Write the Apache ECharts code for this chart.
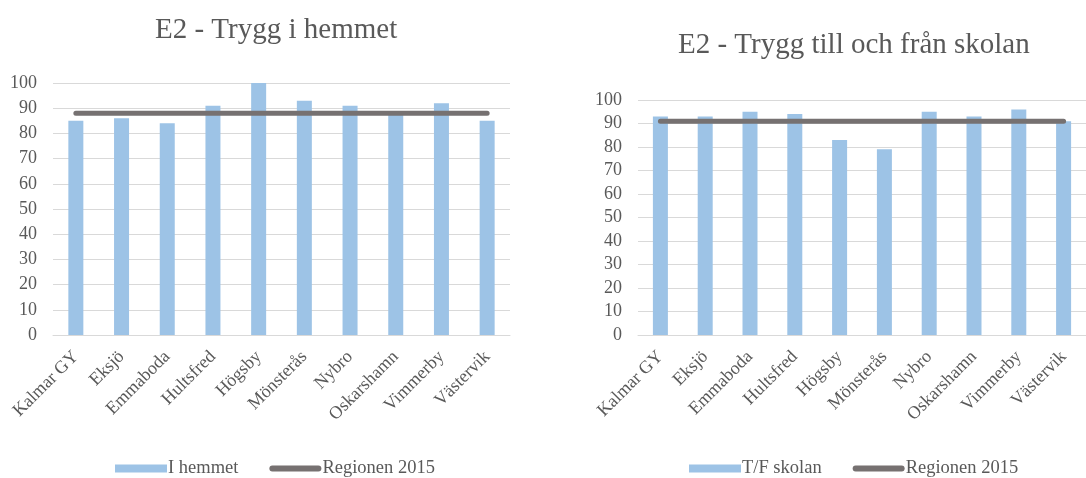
<!DOCTYPE html>
<html>
<head>
<meta charset="utf-8">
<script src="https://cdn.jsdelivr.net/npm/echarts@6/dist/echarts.min.js"></script>
<style>
html,body{margin:0;padding:0;background:#fff;}
#c{width:1086px;height:478px;}
</style>
</head>
<body>
<div id="c"></div>
<script>
const categories = ['Kalmar GY','Eksjö','Emmaboda','Hultsfred','Högsby','Mönsterås','Nybro','Oskarshamn','Vimmerby','Västervik'];
const hemmetValues = [85, 86, 84, 91, 100, 93, 91, 88, 92, 85];
const hemmetRegion = [88, 88, 88, 88, 88, 88, 88, 88, 88, 88];
const skolanValues = [93, 93, 95, 94, 83, 79, 95, 93, 96, 91];
const skolanRegion = [91, 91, 91, 91, 91, 91, 91, 91, 91, 91];
const title1 = 'E2 - Trygg i hemmet';
const title2 = 'E2 - Trygg till och från skolan';
const barName1 = 'I hemmet';
const barName2 = 'T/F skolan';
const lineName = 'Regionen 2015';

const FONT = 'Liberation Serif';
const TXT = '#595959';
const BAR = '#9DC3E6';
const LINE = '#767171';
const CAPSULE = 'path://M3,0 L49,0 A3,3 0 0 1 49,6 L3,6 A3,3 0 0 1 3,0 Z';

function xAx(gi){
  return {
    type:'category', gridIndex:gi, data:categories,
    axisTick:{show:false},
    axisLine:{show:true, lineStyle:{color:'#D9D9D9', width:1}},
    axisLabel:{rotate:45, color:TXT, fontFamily:FONT, fontSize:18, margin:19, interval:0}
  };
}
function yAx(gi){
  return {
    type:'value', gridIndex:gi, min:0, max:100, interval:10,
    axisLine:{show:false}, axisTick:{show:false},
    splitLine:{lineStyle:{color:'#D9D9D9', width:1}},
    axisLabel:{color:TXT, fontFamily:FONT, fontSize:18, margin:16}
  };
}
function legendStyle(left, names){
  return {
    left:left, top:454, itemWidth:52, itemHeight:8, itemGap:31,
    textStyle:{color:TXT, fontFamily:FONT, fontSize:18.5, padding:[0,0,0,-4]},
    data:names, selectedMode:false
  };
}

const chart = echarts.init(document.getElementById('c'), null, {renderer:'canvas'});
chart.setOption({
  animation:false,
  backgroundColor:'#fff',
  title:[
    {text:title1, left:150, top:11, textStyle:{fontFamily:FONT, fontWeight:'normal', fontSize:29, color:TXT}},
    {text:title2, left:673, top:26, textStyle:{fontFamily:FONT, fontWeight:'normal', fontSize:29, color:TXT}}
  ],
  grid:[
    {left:53, top:83, width:457, height:252, containLabel:false},
    {left:638, top:100, width:459, height:235, containLabel:false}
  ],
  xAxis:[xAx(0), xAx(1)],
  yAxis:[yAx(0), yAx(1)],
  legend:[
    legendStyle(110, [{name:barName1, icon:'rect'}, {name:lineName, icon:CAPSULE, itemStyle:{color:LINE}}]),
    legendStyle(684, [{name:barName2, icon:'rect'}, {name:lineName, icon:CAPSULE, itemStyle:{color:LINE}}])
  ],
  series:[
    {name:barName1, type:'bar', xAxisIndex:0, yAxisIndex:0, data:hemmetValues, barWidth:15, itemStyle:{color:BAR}},
    {name:lineName, type:'line', xAxisIndex:0, yAxisIndex:0, data:hemmetRegion, symbol:'none', lineStyle:{color:LINE, width:5, cap:'round'}, itemStyle:{color:LINE}},
    {name:barName2, type:'bar', xAxisIndex:1, yAxisIndex:1, data:skolanValues, barWidth:15, itemStyle:{color:BAR}},
    {name:lineName, type:'line', xAxisIndex:1, yAxisIndex:1, data:skolanRegion, symbol:'none', lineStyle:{color:LINE, width:5, cap:'round'}, itemStyle:{color:LINE}}
  ]
});
</script>
</body>
</html>
